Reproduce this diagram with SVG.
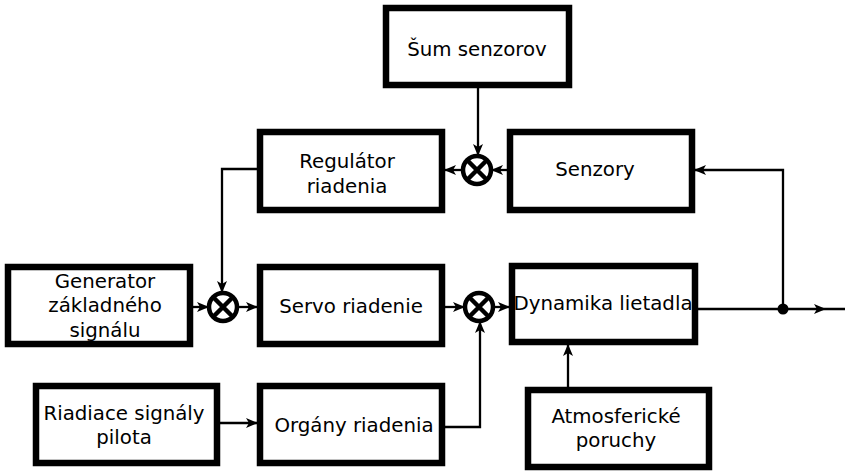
<svg xmlns="http://www.w3.org/2000/svg" width="852" height="474" viewBox="0 0 852 474">
<style>
.box{fill:#fff;stroke:#000;stroke-width:6.5}
.t{font-family:"DejaVu Sans",sans-serif;font-size:19.8px;fill:#000;text-anchor:middle}
.c{fill:#fff;stroke:#000;stroke-width:4.5}
.x{stroke:#000;stroke-width:4.5}
.w{fill:none;stroke:#000;stroke-width:2.3}
</style>
<defs>
<marker id="a" viewBox="0 0 12 10" refX="11" refY="5" markerWidth="12" markerHeight="10" markerUnits="userSpaceOnUse" orient="auto">
<path d="M0,0 L12,5 L0,10 L3,5 Z" fill="#000"/>
</marker>
</defs>
<rect width="852" height="474" fill="#fff"/>
<g id="connectors">
<path class="w" d="M478,88 V155" marker-end="url(#a)"/>
<path class="w" d="M507,170 H492" marker-end="url(#a)"/>
<path class="w" d="M463,170 H445" marker-end="url(#a)"/>
<path class="w" d="M257,169 H222 V292" marker-end="url(#a)"/>
<path class="w" d="M193,307 H208" marker-end="url(#a)"/>
<path class="w" d="M237,307 H257" marker-end="url(#a)"/>
<path class="w" d="M445,307 H464" marker-end="url(#a)"/>
<path class="w" d="M493,307 H509" marker-end="url(#a)"/>
<path class="w" d="M220,423 H257" marker-end="url(#a)"/>
<path class="w" d="M445,427 H480 V322" marker-end="url(#a)"/>
<path class="w" d="M568,387 V345" marker-end="url(#a)"/>
<path class="w" d="M698,309 H845"/>
<path class="w" d="M783,309 V170 H695" marker-end="url(#a)"/>
<path d="M814,304 L826,309 L814,314 L817,309 Z" fill="#000"/>
<circle cx="783" cy="309" r="5.5" fill="#000"/>
</g>
<g id="sum">
<rect class="box" x="386" y="8" width="183" height="77"/>
<text class="t" x="477" y="56" font-size="20.5">Šum senzorov</text>
</g>
<g id="regulator">
<rect class="box" x="260" y="132" width="182" height="78"/>
<text class="t" x="347" y="168">Regulátor</text>
<text class="t" x="347" y="193">riadenia</text>
</g>
<g id="sum1">
<circle class="c" cx="477" cy="170" r="14"/>
<path class="x" d="M467,160 L487,180 M487,160 L467,180"/>
</g>
<g id="senzory">
<rect class="box" x="510" y="132" width="182" height="78"/>
<text class="t" x="595" y="176">Senzory</text>
</g>
<g id="generator">
<rect class="box" x="8" y="267" width="182" height="77"/>
<text class="t" x="105" y="288">Generator</text>
<text class="t" x="105" y="312">základného</text>
<text class="t" x="105" y="337">signálu</text>
</g>
<g id="sum2">
<circle class="c" cx="223" cy="307" r="14"/>
<path class="x" d="M213,297 L233,317 M233,297 L213,317"/>
</g>
<g id="servo">
<rect class="box" x="260" y="267" width="182" height="77"/>
<text class="t" x="351" y="313">Servo riadenie</text>
</g>
<g id="sum3">
<circle class="c" cx="479" cy="307" r="14"/>
<path class="x" d="M469,297 L489,317 M489,297 L469,317"/>
</g>
<g id="dynamika">
<rect class="box" x="512" y="266" width="183" height="76"/>
<text class="t" x="603" y="310" font-size="18.3">Dynamika lietadla</text>
</g>
<g id="riadiace">
<rect class="box" x="36" y="386" width="181" height="77"/>
<text class="t" x="124" y="420">Riadiace signály</text>
<text class="t" x="124" y="444">pilota</text>
</g>
<g id="organy">
<rect class="box" x="260" y="386" width="182" height="77"/>
<text class="t" x="354" y="432">Orgány riadenia</text>
</g>
<g id="atmos">
<rect class="box" x="528" y="390" width="181" height="77"/>
<text class="t" x="616" y="423">Atmosferické</text>
<text class="t" x="616" y="447">poruchy</text>
</g>
</svg>
